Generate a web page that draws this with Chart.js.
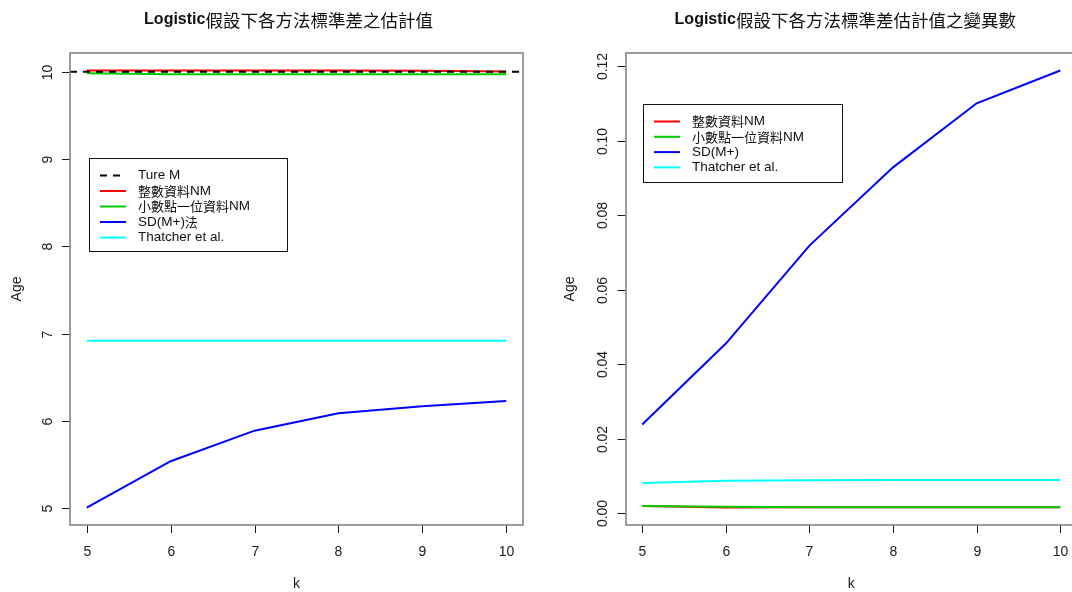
<!DOCTYPE html>
<html>
<head>
<meta charset="utf-8">
<script src="https://cdn.jsdelivr.net/npm/chart.js@4.4.1/dist/chart.umd.min.js"></script>
<style>
  html, body { margin: 0; padding: 0; background: #fff; overflow: hidden; width: 1072px; height: 592px; }
  .panel { position: absolute; top: 0; width: 540px; height: 592px; }
  #p1 { left: 0; }
  #p2 { left: 540px; }
</style>
</head>
<body>
<div class="panel" id="p1"><canvas id="c1" width="540" height="592"></canvas></div>
<div class="panel" id="p2"><canvas id="c2" width="540" height="592"></canvas></div>
<script>
// k values (number of groups)
const kValues = [5, 6, 7, 8, 9, 10];

// Estimated standard deviation by method
const trueM = 10;
const sdIntegerNM = [10.015, 10.015, 10.015, 10.015, 10.012, 10.004];
const sdDecimalNM = [9.982, 9.972, 9.972, 9.972, 9.972, 9.972];
const sdMplus = [5.01, 5.54, 5.89, 6.09, 6.17, 6.23];
const sdThatcher = [6.92, 6.92, 6.92, 6.92, 6.92, 6.92];

// Variance of the standard deviation estimates
const varIntegerNM = [0.0020, 0.0016, 0.0017, 0.0017, 0.0017, 0.0017];
const varDecimalNM = [0.0020, 0.0018, 0.0017, 0.0017, 0.0017, 0.0017];
const varMplus = [0.0239, 0.0456, 0.0719, 0.0929, 0.1101, 0.1189];
const varThatcher = [0.0082, 0.0088, 0.0089, 0.0090, 0.0090, 0.0090];

// Axis tick labels
const xTickValues = [5, 6, 7, 8, 9, 10];
const leftYTicks = [5, 6, 7, 8, 9, 10];
const rightYTicks = [0, 0.02, 0.04, 0.06, 0.08, 0.10, 0.12];

// Titles and legend labels
const leftTitle = ['Logistic', '假設下各方法標準差之估計值'];
const rightTitle = ['Logistic', '假設下各方法標準差估計值之變異數'];
const leftLabels = ['Ture M', '整數資料NM', '小數點一位資料NM', 'SD(M+)法', 'Thatcher et al.'];
const rightLabels = ['整數資料NM', '小數點一位資料NM', 'SD(M+)', 'Thatcher et al.'];

const LATIN = '"Liberation Sans", Arial, sans-serif';
const CJK = '"Noto Sans CJK TC", "Noto Sans CJK SC", sans-serif';

// axis range padded by 4% like a classic plot device
function padRange(values) {
  const lo = Math.min(...values), hi = Math.max(...values);
  const d = (hi - lo) * 0.04;
  return [lo - d, hi + d];
}
const pts = arr => kValues.map((k, i) => ({ x: k, y: arr[i] }));
const [xMin, xMax] = padRange(kValues);

const CJK_RE = /([\u3000-\u9fff\uff00-\uffef]+)|([^\u3000-\u9fff\uff00-\uffef]+)/g;

// Title text: bold Latin run followed by a CJK run with its own font
function drawTitle(ctx, parts, left, right, cy, dx) {
  const segs = [];
  for (const p of parts) {
    let m;
    CJK_RE.lastIndex = 0;
    while ((m = CJK_RE.exec(p)) !== null) {
      if (m[1]) segs.push({ t: m[1], f: `17.5px ${CJK}` });
      else segs.push({ t: m[2], f: `bold 16px ${LATIN}` });
    }
  }
  let total = 0;
  for (const s of segs) {
    ctx.font = s.f;
    s.w = ctx.measureText(s.t).width;
    total += s.w;
  }
  let x = (left + right) / 2 + dx - total / 2;
  ctx.textAlign = 'left';
  ctx.textBaseline = 'middle';
  for (const s of segs) {
    ctx.font = s.f;
    ctx.fillText(s.t, x, cy);
    x += s.w;
  }
}

function drawLegendText(ctx, text, x, y) {
  let m;
  CJK_RE.lastIndex = 0;
  ctx.textAlign = 'left';
  ctx.textBaseline = 'middle';
  while ((m = CJK_RE.exec(text)) !== null) {
    ctx.font = m[1] ? `13px ${CJK}` : `13.5px ${LATIN}`;
    ctx.fillText(m[0], x, y);
    x += ctx.measureText(m[0]).width;
  }
}

// Frame, ticks, labels, title and legend in a classic plotting style
const framePlugin = {
  id: 'frame',
  afterDatasetsDraw(chart, args, o) {
    const { ctx, chartArea: a, scales: { x, y } } = chart;
    ctx.save();
    ctx.fillStyle = '#1a1a1a';
    ctx.strokeStyle = '#1a1a1a';
    ctx.lineWidth = 1;

    // x ticks
    ctx.font = `14px ${LATIN}`;
    ctx.textAlign = 'center';
    ctx.textBaseline = 'middle';
    for (const v of o.xTicks) {
      const px = Math.round(x.getPixelForValue(v)) + 0.5;
      ctx.beginPath(); ctx.moveTo(px, a.bottom); ctx.lineTo(px, a.bottom + 8); ctx.stroke();
      ctx.fillText(String(v), px, a.bottom + 27);
    }
    // y ticks (rotated labels)
    for (const v of o.yTicks) {
      const py = Math.round(y.getPixelForValue(v)) + 0.5;
      ctx.beginPath(); ctx.moveTo(a.left - 8, py); ctx.lineTo(a.left, py); ctx.stroke();
      ctx.save();
      ctx.translate(a.left - 22, py);
      ctx.rotate(-Math.PI / 2);
      ctx.fillText(v.toFixed(o.yDigits), 0, 0);
      ctx.restore();
    }
    // axis titles
    ctx.fillText(o.xLabel, (a.left + a.right) / 2, a.bottom + 59);
    ctx.save();
    ctx.translate(a.left + o.yLabelDx, (a.top + a.bottom) / 2);
    ctx.rotate(-Math.PI / 2);
    ctx.fillText(o.yLabel, 0, 0);
    ctx.restore();

    // box
    ctx.strokeStyle = '#858585';
    ctx.lineWidth = 1.6;
    ctx.strokeRect(Math.round(a.left), Math.round(a.top), Math.round(a.right - a.left), Math.round(a.bottom - a.top));

    // title
    ctx.fillStyle = '#111';
    drawTitle(ctx, o.title, a.left, a.right, 20, o.titleDx);

    // legend
    const L = o.legend;
    ctx.fillStyle = '#fff';
    ctx.fillRect(L.x, L.y, L.w, L.h);
    ctx.strokeStyle = '#111';
    ctx.lineWidth = 1;
    ctx.strokeRect(L.x + 0.5, L.y + 0.5, L.w, L.h);
    chart.data.datasets.forEach((d, i) => {
      const ry = L.y + L.first + i * L.step;
      ctx.strokeStyle = d.borderColor;
      ctx.lineWidth = 2;
      ctx.setLineDash(d.borderDash || []);
      ctx.beginPath(); ctx.moveTo(L.x + 11, ry); ctx.lineTo(L.x + 37, ry); ctx.stroke();
      ctx.setLineDash([]);
      ctx.fillStyle = '#111';
      drawLegendText(ctx, d.label, L.x + 49, ry);
    });
    ctx.restore();
  }
};

function lineSet(label, data, color, order, extra) {
  return Object.assign({
    label, data: pts(data), borderColor: color, backgroundColor: color,
    borderWidth: 2, pointRadius: 0, tension: 0, order
  }, extra || {});
}

function makeChart(id, datasets, yRange, pad, frame) {
  return new Chart(document.getElementById(id), {
    type: 'line',
    data: { datasets },
    options: {
      responsive: false,
      animation: false,
      devicePixelRatio: 1,
      layout: { padding: pad },
      plugins: { legend: { display: false }, tooltip: { enabled: false }, title: { display: false }, frame },
      scales: {
        x: { type: 'linear', display: false, min: xMin, max: xMax },
        y: { type: 'linear', display: false, min: yRange[0], max: yRange[1] }
      }
    },
    plugins: [framePlugin]
  });
}

// Left panel: standard deviation estimates
const leftRange = padRange([...sdIntegerNM, ...sdDecimalNM, ...sdMplus, ...sdThatcher]);
makeChart('c1', [
  lineSet(leftLabels[0], [], '#000000', 0, {
    data: [{ x: xMin, y: trueM }, { x: xMax, y: trueM }], borderDash: [7, 6]
  }),
  lineSet(leftLabels[1], sdIntegerNM, '#ff0000', 4),
  lineSet(leftLabels[2], sdDecimalNM, '#00cd00', 3),
  lineSet(leftLabels[3], sdMplus, '#0000ff', 2),
  lineSet(leftLabels[4], sdThatcher, '#00ffff', 1)
], leftRange, { left: 70, right: 17, top: 53, bottom: 67 }, {
  title: leftTitle, titleDx: -8, xTicks: xTickValues, yTicks: leftYTicks, yDigits: 0,
  xLabel: 'k', yLabel: 'Age', yLabelDx: -53,
  legend: { x: 89, y: 158, w: 198, h: 93, first: 17.5, step: 15.5 }
});

// Right panel: variance of the estimates
const rightRange = padRange([...varIntegerNM, ...varDecimalNM, ...varMplus, ...varThatcher]);
makeChart('c2', [
  lineSet(rightLabels[0], varIntegerNM, '#ff0000', 4),
  lineSet(rightLabels[1], varDecimalNM, '#00cd00', 3),
  lineSet(rightLabels[2], varMplus, '#0000ff', 2),
  lineSet(rightLabels[3], varThatcher, '#00ffff', 1)
], rightRange, { left: 85.5, right: 3, top: 53, bottom: 67 }, {
  title: rightTitle, titleDx: -6, xTicks: xTickValues, yTicks: rightYTicks, yDigits: 2,
  xLabel: 'k', yLabel: 'Age', yLabelDx: -55,
  legend: { x: 103, y: 104, w: 199, h: 78, first: 17.5, step: 15.3 }
});
</script>
</body>
</html>
